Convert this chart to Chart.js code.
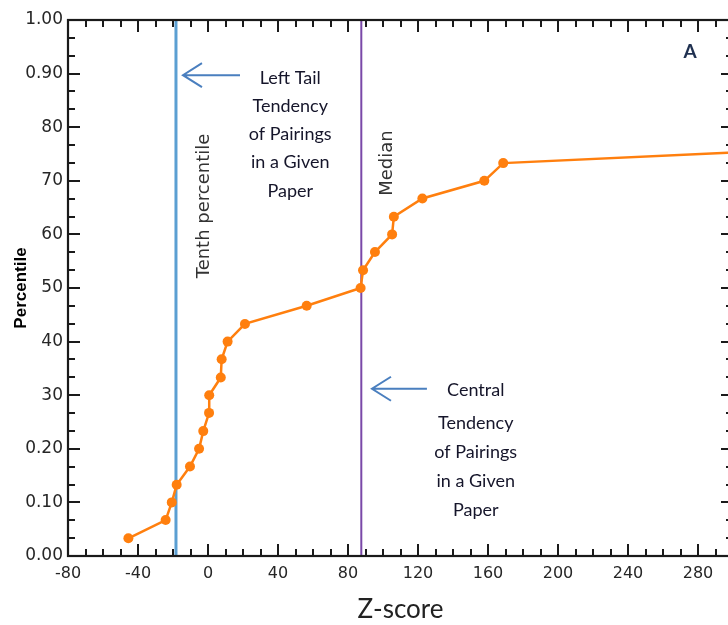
<!DOCTYPE html>
<html>
<head>
<meta charset="utf-8">
<script src="https://cdn.jsdelivr.net/npm/chart.js@4"></script>
<style>
  html, body { margin: 0; padding: 0; background: #fff; overflow: hidden; }
  #wrap { width: 745px; height: 625px; position: relative; }
</style>
</head>
<body>
<div id="wrap"><canvas id="myChart"></canvas></div>
<script>

// z-score of each pairing and its percentile
var zScores = [-45.5, -24.2, -20.7, -17.9, -10.3, -5.1, -2.7, 0.6, 0.7, 7.3, 7.8, 11.2, 21.1,
               56.4, 87.2, 88.6, 95.4, 105.2, 106.2, 122.5, 157.9, 168.7, 300];
var percentiles = [0.033, 0.067, 0.100, 0.133, 0.167, 0.200, 0.233, 0.267, 0.300, 0.333, 0.367, 0.400, 0.433,
                   0.467, 0.500, 0.533, 0.567, 0.600, 0.633, 0.667, 0.700, 0.733, 0.753];

var tenthX = -18.3;
var medianX = 87.6;

var xTicks = [-80, -40, 0, 40, 80, 120, 160, 200, 240, 280];
var yTicks = [0, 0.1, 0.2, 0.3, 0.4, 0.5, 0.6, 0.7, 0.8, 0.9, 1.0];
var yTickLabels = ["0.00", "0.10", "0.20", "30", "40", "50", "60", "70", "80", "0.90", "1.00"];

var leftNote = ["Left Tail", "Tendency", "of Pairings", "in a Given", "Paper"];
var centralNote = ["Central", "Tendency", "of Pairings", "in a Given", "Paper"];


function seriesPoints() {
    var pts = [];
    for (var i = 0; i < zScores.length; i++) {
        pts.push({ x: zScores[i], y: percentiles[i] });
    }
    return pts;
}

function pointSizes() {
    // last point only carries the line to the edge
    return zScores.map(function (v, i) { return i == zScores.length - 1 ? 0 : 5; });
}

var frame = {
    id: 'frame',
    afterDatasetsDraw: function (chart) {
        var ctx = chart.ctx;
        var xs = chart.scales.x, ys = chart.scales.y;
        var a = chart.chartArea;
        ctx.save();
        ctx.strokeStyle = '#1a1a1a';
        ctx.lineWidth = 2;

        // x ticks, bottom and top, every 10
        for (var v = -80; v <= 300; v += 10) {
            var px = Math.round(xs.getPixelForValue(v));
            var len = (v % 40 == 0) ? 12 : 7;
            ctx.beginPath();
            ctx.moveTo(px, a.bottom); ctx.lineTo(px, a.bottom - len);
            ctx.moveTo(px, a.top); ctx.lineTo(px, a.top + len);
            ctx.stroke();
        }
        // y ticks, left and right, thirds of 0.1
        for (var k = 0; k <= 30; k++) {
            var py = Math.round(ys.getPixelForValue(k / 30));
            var l2 = (k % 3 == 0) ? 12 : 7;
            ctx.beginPath();
            ctx.moveTo(a.left, py); ctx.lineTo(a.left + l2, py);
            ctx.moveTo(a.right, py); ctx.lineTo(a.right - l2, py);
            ctx.stroke();
        }
        ctx.lineWidth = 2.2;
        ctx.strokeRect(a.left, a.top, a.right - a.left, a.bottom - a.top);

        // rotated line labels
        ctx.fillStyle = '#333';
        ctx.font = '18px "DejaVu Sans"';
        ctx.textAlign = 'center';
        ctx.textBaseline = 'middle';
        ctx.save();
        ctx.translate(xs.getPixelForValue(tenthX) + 28, ys.getPixelForValue(0.653));
        ctx.rotate(-Math.PI / 2);
        ctx.fillText('Tenth percentile', 0, 0);
        ctx.restore();
        ctx.save();
        ctx.translate(xs.getPixelForValue(medianX) + 26, ys.getPixelForValue(0.733));
        ctx.rotate(-Math.PI / 2);
        ctx.fillText('Median', 0, 0);
        ctx.restore();

        // arrows and notes
        drawArrow(ctx, xs.getPixelForValue(-14.3), xs.getPixelForValue(18.3), ys.getPixelForValue(0.897));
        drawArrow(ctx, xs.getPixelForValue(93.7), xs.getPixelForValue(125.1), ys.getPixelForValue(0.312));

        ctx.fillStyle = '#15152a';
        ctx.font = '18px Lato';
        leftNote.forEach(function (t, i) {
            ctx.fillText(t, xs.getPixelForValue(47), ys.getPixelForValue(0.892) + i * 28.2);
        });
        centralNote.forEach(function (t, i) {
            ctx.fillText(t, xs.getPixelForValue(153), ys.getPixelForValue(0.310) + (i == 0 ? 0 : 33 + (i - 1) * 29));
        });

        ctx.fillStyle = '#1f3050';
        ctx.font = 'bold 19px Lato';
        ctx.fillText('A', xs.getPixelForValue(275.5), ys.getPixelForValue(0.941));
        ctx.restore();
    }
};

function drawArrow(ctx, x0, x1, y) {
    ctx.save();
    ctx.strokeStyle = '#4a7fbf';
    ctx.lineWidth = 2;
    ctx.beginPath();
    ctx.moveTo(x1, y); ctx.lineTo(x0, y);
    ctx.moveTo(x0 + 19, y - 12); ctx.lineTo(x0, y); ctx.lineTo(x0 + 19, y + 12);
    ctx.stroke();
    ctx.restore();
}

const el = document.getElementById('myChart');

const config = {
    type: 'scatter',
    data: {
        datasets: [
            {
                label: 'Percentile',
                data: seriesPoints(),
                showLine: true,
                borderColor: '#ff7f0e',
                backgroundColor: '#ff7f0e',
                borderWidth: 2.5,
                pointRadius: pointSizes(),
                pointBorderWidth: 0,
                tension: 0
            },
            {
                label: 'Tenth percentile',
                data: [{ x: tenthX, y: 0 }, { x: tenthX, y: 1 }],
                showLine: true,
                borderColor: '#5b9fd2',
                borderWidth: 3,
                pointRadius: 0
            },
            {
                label: 'Median',
                data: [{ x: medianX, y: 0 }, { x: medianX, y: 1 }],
                showLine: true,
                borderColor: '#7a48a8',
                borderWidth: 2,
                pointRadius: 0
            }
        ]
    },
    options: {
        responsive: true,
        maintainAspectRatio: false,
        animation: false,
        layout: { padding: { left: 0, right: 12, top: 20, bottom: 0 } },
        plugins: { legend: { display: false }, tooltip: { enabled: false } },
        scales: {
            x: {
                type: 'linear',
                min: -80,
                max: 300,
                grid: { display: false, drawTicks: false },
                border: { display: false },
                afterBuildTicks: function (s) { s.ticks = xTicks.map(function (v) { return { value: v }; }); },
                afterFit: function (s) { s.height = 69; },
                ticks: {
                    color: '#262626',
                    font: { family: 'DejaVu Sans', size: 16 },
                    padding: 8,
                    maxRotation: 0
                },
                title: {
                    display: true,
                    text: 'Z-score',
                    color: '#222',
                    font: { family: 'Lato', size: 26 },
                    padding: { top: 0, bottom: 0 }
                }
            },
            y: {
                type: 'linear',
                min: 0,
                max: 1,
                grid: { display: false, drawTicks: false },
                border: { display: false },
                afterBuildTicks: function (s) { s.ticks = yTicks.map(function (v) { return { value: v }; }); },
                afterFit: function (s) { s.width = 68; },
                ticks: {
                    color: '#262626',
                    font: { family: 'DejaVu Sans', size: 17 },
                    padding: 5,
                    callback: function (value, index) { return yTickLabels[index]; }
                },
                title: {
                    display: true,
                    text: 'Percentile',
                    color: '#000',
                    font: { family: 'Liberation Sans', size: 17, weight: 'bold' },
                    padding: { top: 11, bottom: 0 }
                }
            }
        }
    },
    plugins: [frame]
};

new Chart(el, config);
</script>
</body>
</html>
